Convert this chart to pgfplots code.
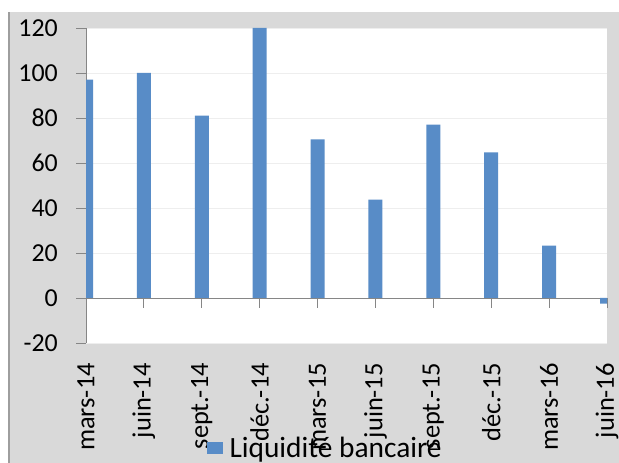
\documentclass[border=0pt]{standalone}
\usepackage{pgfplots}
\pgfplotsset{compat=1.18}
\usepackage{fontspec}
\setmainfont{Carlito}
\definecolor{barblue}{RGB}{88,140,199}
\definecolor{bggray}{RGB}{217,217,217}
\definecolor{axgray}{RGB}{134,134,134}
\definecolor{gridc}{RGB}{238,238,238}
\begin{document}
\begin{tikzpicture}
\path[use as bounding box] (0,0) rectangle (619bp,463bp);
\fill[bggray] (8bp,0) rectangle (619bp,451bp);
\draw[color=axgray!80, line width=2bp] (9bp,0) -- (9bp,451bp);
\begin{axis}[
  at={(86bp,120bp)}, anchor=south west,
  scale only axis, width=521bp, height=315bp,
  axis background/.style={fill=white},
  xmin=0, xmax=9, ymin=-20, ymax=120,
  axis y line=left, axis x line=middle,
  hide obscured x ticks=false,
  axis line style={color=axgray, line width=0.8bp, -},
  ytick={-20,0,...,120},
  xtick={0,...,9},
  xticklabels={mars-14,juin-14,sept.-14,déc.-14,mars-15,juin-15,sept.-15,déc.-15,mars-16,juin-16},
  ymajorgrids, grid style={color=gridc, line width=0.8bp},
  major tick length=10bp,
  tick style={color=axgray, line width=0.8bp},
  ytick align=outside, xtick align=inside,
  /pgf/number format/assume math mode=true,
  yticklabel style={font=\fontsize{26}{31}\selectfont, inner sep=0pt},
  yticklabel shift=18bp,
  xticklabel style={font=\fontsize{26.5}{31}\selectfont, rotate=90, anchor=east, inner sep=0pt},
  xticklabel shift=55bp,
  ybar, bar width=14bp,
  legend style={at={(0.459,-0.332)}, anchor=center, draw=none, fill=none,
    font=\fontsize{29.5}{34}\selectfont, inner sep=0pt, column sep=5bp},
  legend image code/.code={\fill[barblue] (0bp,-6bp) rectangle (16bp,6bp);},
]
\addplot[fill=barblue, draw=none] coordinates {
(0,97) (1,100) (2,81) (3,120) (4,70.5) (5,43.7) (6,77) (7,64.7) (8,23.3) (9,-2.5)
};
\addlegendentry{Liquidité bancaire}
\end{axis}
\end{tikzpicture}
\end{document}
